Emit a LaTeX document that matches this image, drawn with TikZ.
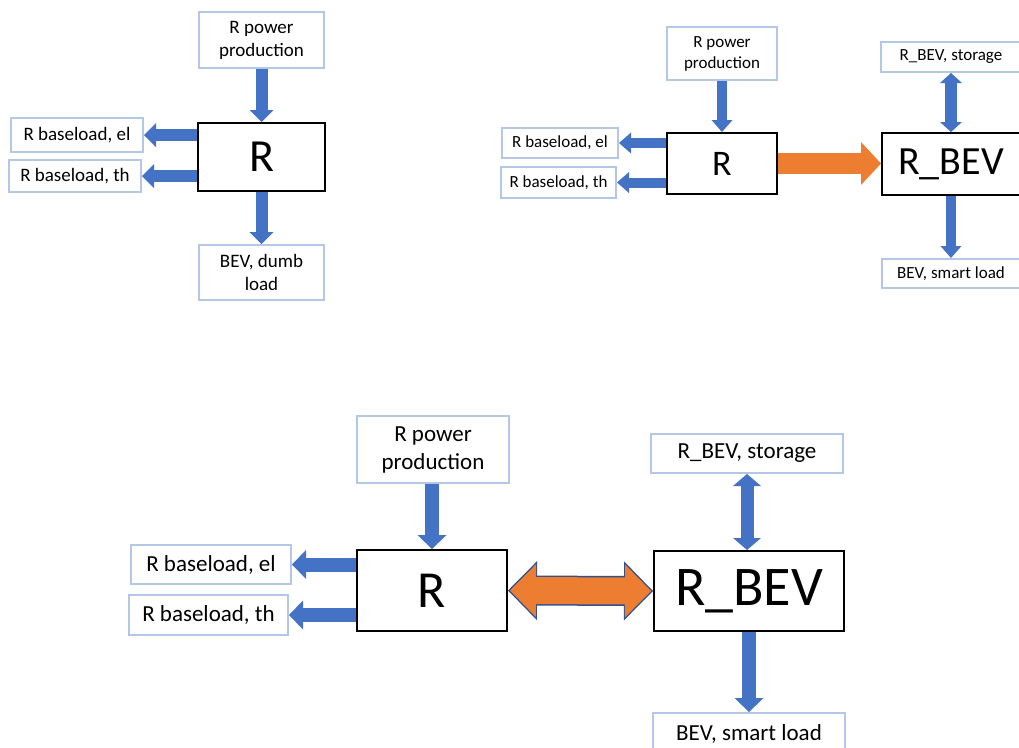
\documentclass[tikz,border=0pt]{standalone}
\usepackage{fontspec}
\setmainfont{Carlito}
\usepackage{xcolor}
\usetikzlibrary{arrows.meta}

\definecolor{flowblue}{HTML}{4472C4}
\definecolor{boxblue}{HTML}{B4C7E7}
\definecolor{swaporange}{HTML}{ED7D31}
\definecolor{swapedge}{HTML}{2F528F}

\tikzset{
  box/.style={draw=boxblue,line width=2pt,fill=white,inner sep=0pt,align=center},
  unit/.style={draw=black,line width=2pt,fill=white,inner sep=0pt},
  flowA/.style={draw=flowblue,line width=12pt,arrows={-Triangle[length=12pt,width=24pt,line width=0pt]}},
  flowB/.style={draw=flowblue,line width=10pt,arrows={-Triangle[length=12pt,width=21pt,line width=0pt]}},
  flowC/.style={draw=flowblue,line width=14pt,arrows={-Triangle[length=14pt,width=29pt,line width=0pt]}},
  bothB/.style={draw=flowblue,line width=12pt,arrows={Triangle[length=10pt,width=22pt,line width=0pt]-Triangle[length=10pt,width=22pt,line width=0pt]}},
  bothC/.style={draw=flowblue,line width=13pt,arrows={Triangle[length=12pt,width=28pt,line width=0pt]-Triangle[length=12pt,width=28pt,line width=0pt]}},
}

\begin{document}
\begin{tikzpicture}[x=1pt,y=-1pt]
  \useasboundingbox (0,0) rectangle (1019,747);
  \fill[white] (0,0) rectangle (1019,747);

  % first case: dumb charging
  \begin{scope}[every node/.append style={font=\fontsize{19}{23}\selectfont}]
    \node[box,minimum width=125pt,minimum height=56pt] (prod1)  at (261.5,40)  {R power\\production};
    \node[unit,minimum width=127pt,minimum height=68pt,font=\fontsize{46}{50}\selectfont] (r1) at (261.5,157) {R};
    \node[box,minimum width=132pt,minimum height=34pt] (el1)    at (77,135)    {R baseload, el};
    \node[box,minimum width=132pt,minimum height=32pt] (th1)    at (75,176)    {R baseload, th};
    \node[box,minimum width=125pt,minimum height=55pt] (dumb1)  at (261.5,272.5) {BEV, dumb\\load};
  \end{scope}

  \draw[flowA] (prod1) -- (r1);
  \draw[flowA] (r1.west |- el1) -- (el1);
  \draw[flowA] (r1.west |- th1) -- (th1);
  \draw[flowA] (r1) -- (dumb1);

  % second case: smart charging
  \begin{scope}[every node/.append style={font=\fontsize{17}{21}\selectfont}]
    \node[box,minimum width=110pt,minimum height=53pt] (prod2)  at (722,53.5)  {R power\\production};
    \node[unit,minimum width=110pt,minimum height=61pt,font=\fontsize{36}{40}\selectfont] (r2) at (722,163.5) {R};
    \node[box,minimum width=116pt,minimum height=30pt] (el2)    at (560,143)   {R baseload, el};
    \node[box,minimum width=115pt,minimum height=31pt] (th2)    at (558.5,182.5) {R baseload, th};
    \node[unit,minimum width=138pt,minimum height=62pt,font=\fontsize{40}{44}\selectfont] (rb2) at (951,164) {R\_BEV};
    \node[box,minimum width=140pt,minimum height=30pt] (sto2)   at (951,57)    {R\_BEV, storage};
    \node[box,minimum width=138pt,minimum height=29pt] (smart2) at (951,273.5) {BEV, smart load};
  \end{scope}

  \draw[flowB] (prod2) -- (r2);
  \draw[flowB] (r2.west |- el2) -- (el2);
  \draw[flowB] (r2.west |- th2) -- (th2);
  \draw[draw=swaporange,line width=21pt,arrows={-Triangle[length=20pt,width=43pt,line width=0pt]}]
    (r2.east) -- (r2.east -| rb2.west);
  \draw[bothB] (sto2) -- (rb2);
  \draw[flowB] (rb2) -- (smart2);

  % third case: vehicle to grid
  \begin{scope}[every node/.append style={font=\fontsize{23}{28}\selectfont}]
    \node[box,minimum width=152pt,minimum height=67pt] (prod3)  at (433,449.5) {R power\\production};
    \node[unit,minimum width=150pt,minimum height=81pt,font=\fontsize{52}{56}\selectfont] (r3) at (432,590.5) {R};
    \node[box,minimum width=160pt,minimum height=39pt] (el3)    at (211,564.5) {R baseload, el};
    \node[box,minimum width=159pt,minimum height=40pt] (th3)    at (208.5,615) {R baseload, th};
    \node[unit,minimum width=190pt,minimum height=80pt,font=\fontsize{56}{60}\selectfont] (rb3) at (749,591) {R\_BEV};
    \node[box,minimum width=192pt,minimum height=39pt] (sto3)   at (747,453.5) {R\_BEV, storage};
    \node[box,minimum width=192pt,minimum height=47pt,text depth=8pt] (smart3) at (749,736.5) {BEV, smart load};
  \end{scope}

  \draw[flowC] (prod3.south -| r3) -- (r3);
  \draw[flowC] (r3.west |- el3) -- (el3);
  \draw[flowC] (r3.west |- th3) -- (th3);
  \draw[draw=swapedge,line width=30pt,arrows={Triangle[length=29pt,width=59pt,line width=0pt]-Triangle[length=29pt,width=59pt,line width=0pt]}]
    (r3.east) -- (rb3.west);
  \draw[draw=swaporange,line width=27pt,shorten <=2pt,shorten >=2pt,arrows={Triangle[length=26pt,width=53pt,line width=0pt]-Triangle[length=26pt,width=53pt,line width=0pt]}]
    (r3.east) -- (rb3.west);
  \draw[bothC] (sto3) -- (sto3.south |- rb3.north);
  \draw[flowC] (rb3) -- (smart3);
\end{tikzpicture}
\end{document}
